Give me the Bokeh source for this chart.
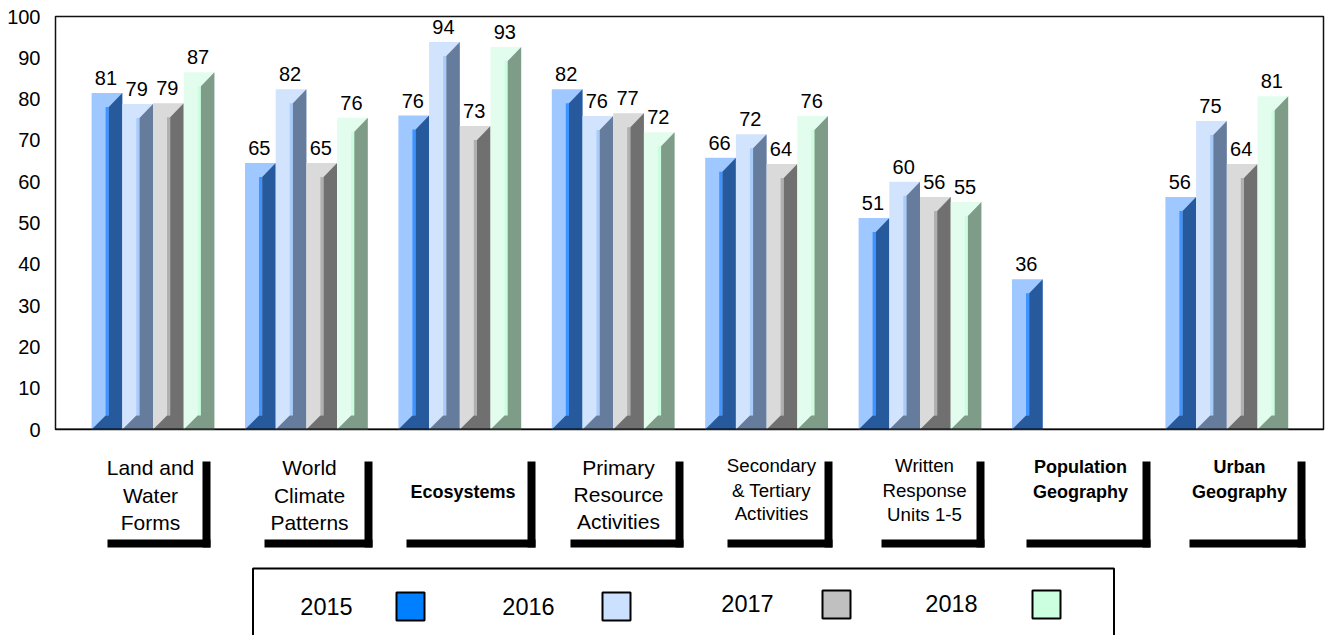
from bokeh.plotting import figure
from bokeh.layouts import column
from bokeh.models import Range1d, FixedTicker
from bokeh.core.properties import value
from bokeh.embed import file_html
from bokeh.resources import INLINE

FONT = "Liberation Sans"
years = ["2015", "2016", "2017", "2018"]
values_2015 = [81.5, 64.5, 76.0, 82.4, 65.8, 51.2, 36.4, 56.3]
values_2016 = [78.8, 82.4, 93.8, 75.9, 71.5, 60.0, None, 74.7]
values_2017 = [79.0, 64.5, 73.5, 76.6, 64.3, 56.3, None, 64.3]
values_2018 = [86.5, 75.5, 92.6, 72.0, 75.9, 55.1, None, 80.7]
labels_2015 = ["81", "65", "76", "82", "66", "51", "36", "56"]
labels_2016 = ["79", "82", "94", "76", "72", "60", "", "75"]
labels_2017 = ["79", "65", "73", "77", "64", "56", "", "64"]
labels_2018 = ["87", "76", "93", "72", "76", "55", "", "81"]
series = [values_2015, values_2016, values_2017, values_2018]
series_labels = [labels_2015, labels_2016, labels_2017, labels_2018]
front_colors = ["#9EC8FF", "#D2E3FD", "#DADADA", "#E2FDEE"]
strip_colors = ["#3F94FF", "#A8CBFA", "#B0B0B0", "#CBFDDF"]
side_colors = ["#275A9C", "#667C9C", "#707070", "#7E9C88"]
swatch_colors = ["#0080FF", "#CCE0FF", "#C0C0C0", "#CCFFE0"]

# (text lines, centre x, line y centres, font px, style, box left, box right)
cat_labels = [
    (["Land and", "Water", "Forms"], 150, [467, 494.5, 521.5], 21, "normal", 107, 210),
    (["World", "Climate", "Patterns"], 309, [467, 494.5, 521.5], 21, "normal", 264, 372),
    (["Ecosystems"], 462.5, [491], 18, "bold", 406, 535),
    (["Primary", "Resource", "Activities"], 618, [467, 494, 521], 21, "normal", 570, 683),
    (["Secondary", "& Tertiary", "Activities"], 771, [465, 490, 513], 18.7, "normal", 727, 832),
    (["Written", "Response", "Units 1-5"], 924, [465, 490, 514], 18.7, "normal", 881, 984),
    (["Population", "Geography"], 1080, [466, 491], 18, "bold", 1026, 1150),
    (["Urban", "Geography"], 1239, [466, 491], 18, "bold", 1189, 1305),
]
legend_text_x = [326, 528, 747, 951]
legend_text_y = [606, 606, 603, 603]
legend_swatch_x = [396, 602, 822, 1032]
legend_swatch_y = [592, 592, 590, 590]

# ---- chart ----
STEP = 153.4      # px per category
FIRST = 152.5     # px of first category centre
PLOT_L, PLOT_R, PLOT_T, PLOT_B = 55, 1323, 16, 429
PX_Y = (PLOT_B - PLOT_T) / 100.0

p = figure(width=1325, height=445, output_backend="svg", toolbar_location=None,
           x_range=Range1d((PLOT_L - FIRST) / STEP, (PLOT_R - FIRST) / STEP),
           y_range=Range1d(0, 100), tools="",
           min_border_left=PLOT_L, min_border_right=1325 - PLOT_R,
           min_border_top=PLOT_T, min_border_bottom=445 - PLOT_B)
p.xaxis.visible = False
p.xgrid.visible = False
p.ygrid.visible = False
p.yaxis.ticker = FixedTicker(ticks=list(range(0, 101, 10)))
p.yaxis.major_tick_line_color = None
p.yaxis.major_tick_out = 0
p.yaxis.major_tick_in = 0
p.yaxis.minor_tick_line_color = None
p.yaxis.minor_tick_out = 0
p.yaxis.axis_line_color = None
p.yaxis.major_label_text_font = FONT
p.yaxis.major_label_text_font_size = "20px"
p.yaxis.major_label_text_color = "#000000"
p.yaxis.major_label_standoff = 15
p.outline_line_color = "#111111"
p.outline_line_width = 1.5
p.background_fill_color = "#FFFFFF"

BW = 30.7 / STEP
DX = 14.0 / STEP
DY = 14.0 / PX_Y
SW = 3.2 / STEP

for s, vals in enumerate(series):
    xs = [i + (s - 1.5) * (30.7 / STEP) for i, v in enumerate(vals) if v is not None]
    ys = [v for v in vals if v is not None]
    txt = [t for t in series_labels[s] if t]
    p.vbar(x=xs, top=ys, bottom=0, width=BW, fill_color=front_colors[s], line_color=None)
    p.vbar(x=[x - BW / 2 + DX + SW / 2 for x in xs], top=[y - DY for y in ys], bottom=DY, width=SW,
           fill_color=strip_colors[s], line_color=None)
    px, py = [], []
    for x, y in zip(xs, ys):
        l = x - BW / 2
        r = x + BW / 2
        px.append([l, l + DX, l + DX + SW, l + DX + SW, r, r])
        py.append([0, DY, DY, y - DY, y, 0])
    p.patches(px, py, fill_color=side_colors[s], line_color=None)
    p.text(x=xs, y=ys, text=txt, text_align="center", text_baseline="alphabetic", x_offset=-1, y_offset=-15,
           text_font=value(FONT), text_font_size=value("20px"), text_color="#000000")

p.segment(x0=[p.x_range.start], x1=[p.x_range.end], y0=[0], y1=[0], line_color="#000000", line_width=2)

# ---- lower panel, in page pixels ----
q = figure(width=1325, height=190, output_backend="svg", toolbar_location=None, tools="",
           x_range=Range1d(PLOT_L, PLOT_R), y_range=Range1d(635, 445),
           min_border=0, min_border_left=PLOT_L, min_border_right=1325 - PLOT_R,
           min_border_top=0, min_border_bottom=0)
q.axis.visible = False
q.grid.visible = False
q.outline_line_color = None

for lines, cx, ys, size, style, bl, br in cat_labels:
    q.quad(left=[br - 8, bl], right=[br, br], top=[461, 539], bottom=[547, 547],
           fill_color="#000000", line_color=None)
    q.text(x=[cx] * len(lines), y=ys, text=lines, text_align="center", text_baseline="middle",
           text_font=value(FONT), text_font_size=value(f"{size}px"), text_font_style=style,
           text_color="#000000")

q.multi_line(xs=[[252.5, 252.5, 1113.5, 1113.5]], ys=[[636, 568, 568, 636]], line_color="#000000", line_width=2)
for i, y in enumerate(years):
    q.text(x=[legend_text_x[i]], y=[legend_text_y[i]], text=[y], text_align="center", text_baseline="middle",
           text_font=value(FONT), text_font_size=value("23.5px"), text_color="#000000")
    q.quad(left=[legend_swatch_x[i]], right=[legend_swatch_x[i] + 28], top=[legend_swatch_y[i]],
           bottom=[legend_swatch_y[i] + 28], fill_color=swatch_colors[i], line_color="#000000", line_width=2)

layout = column(p, q, spacing=0)
open("out.html", "w").write(file_html(layout, INLINE))
